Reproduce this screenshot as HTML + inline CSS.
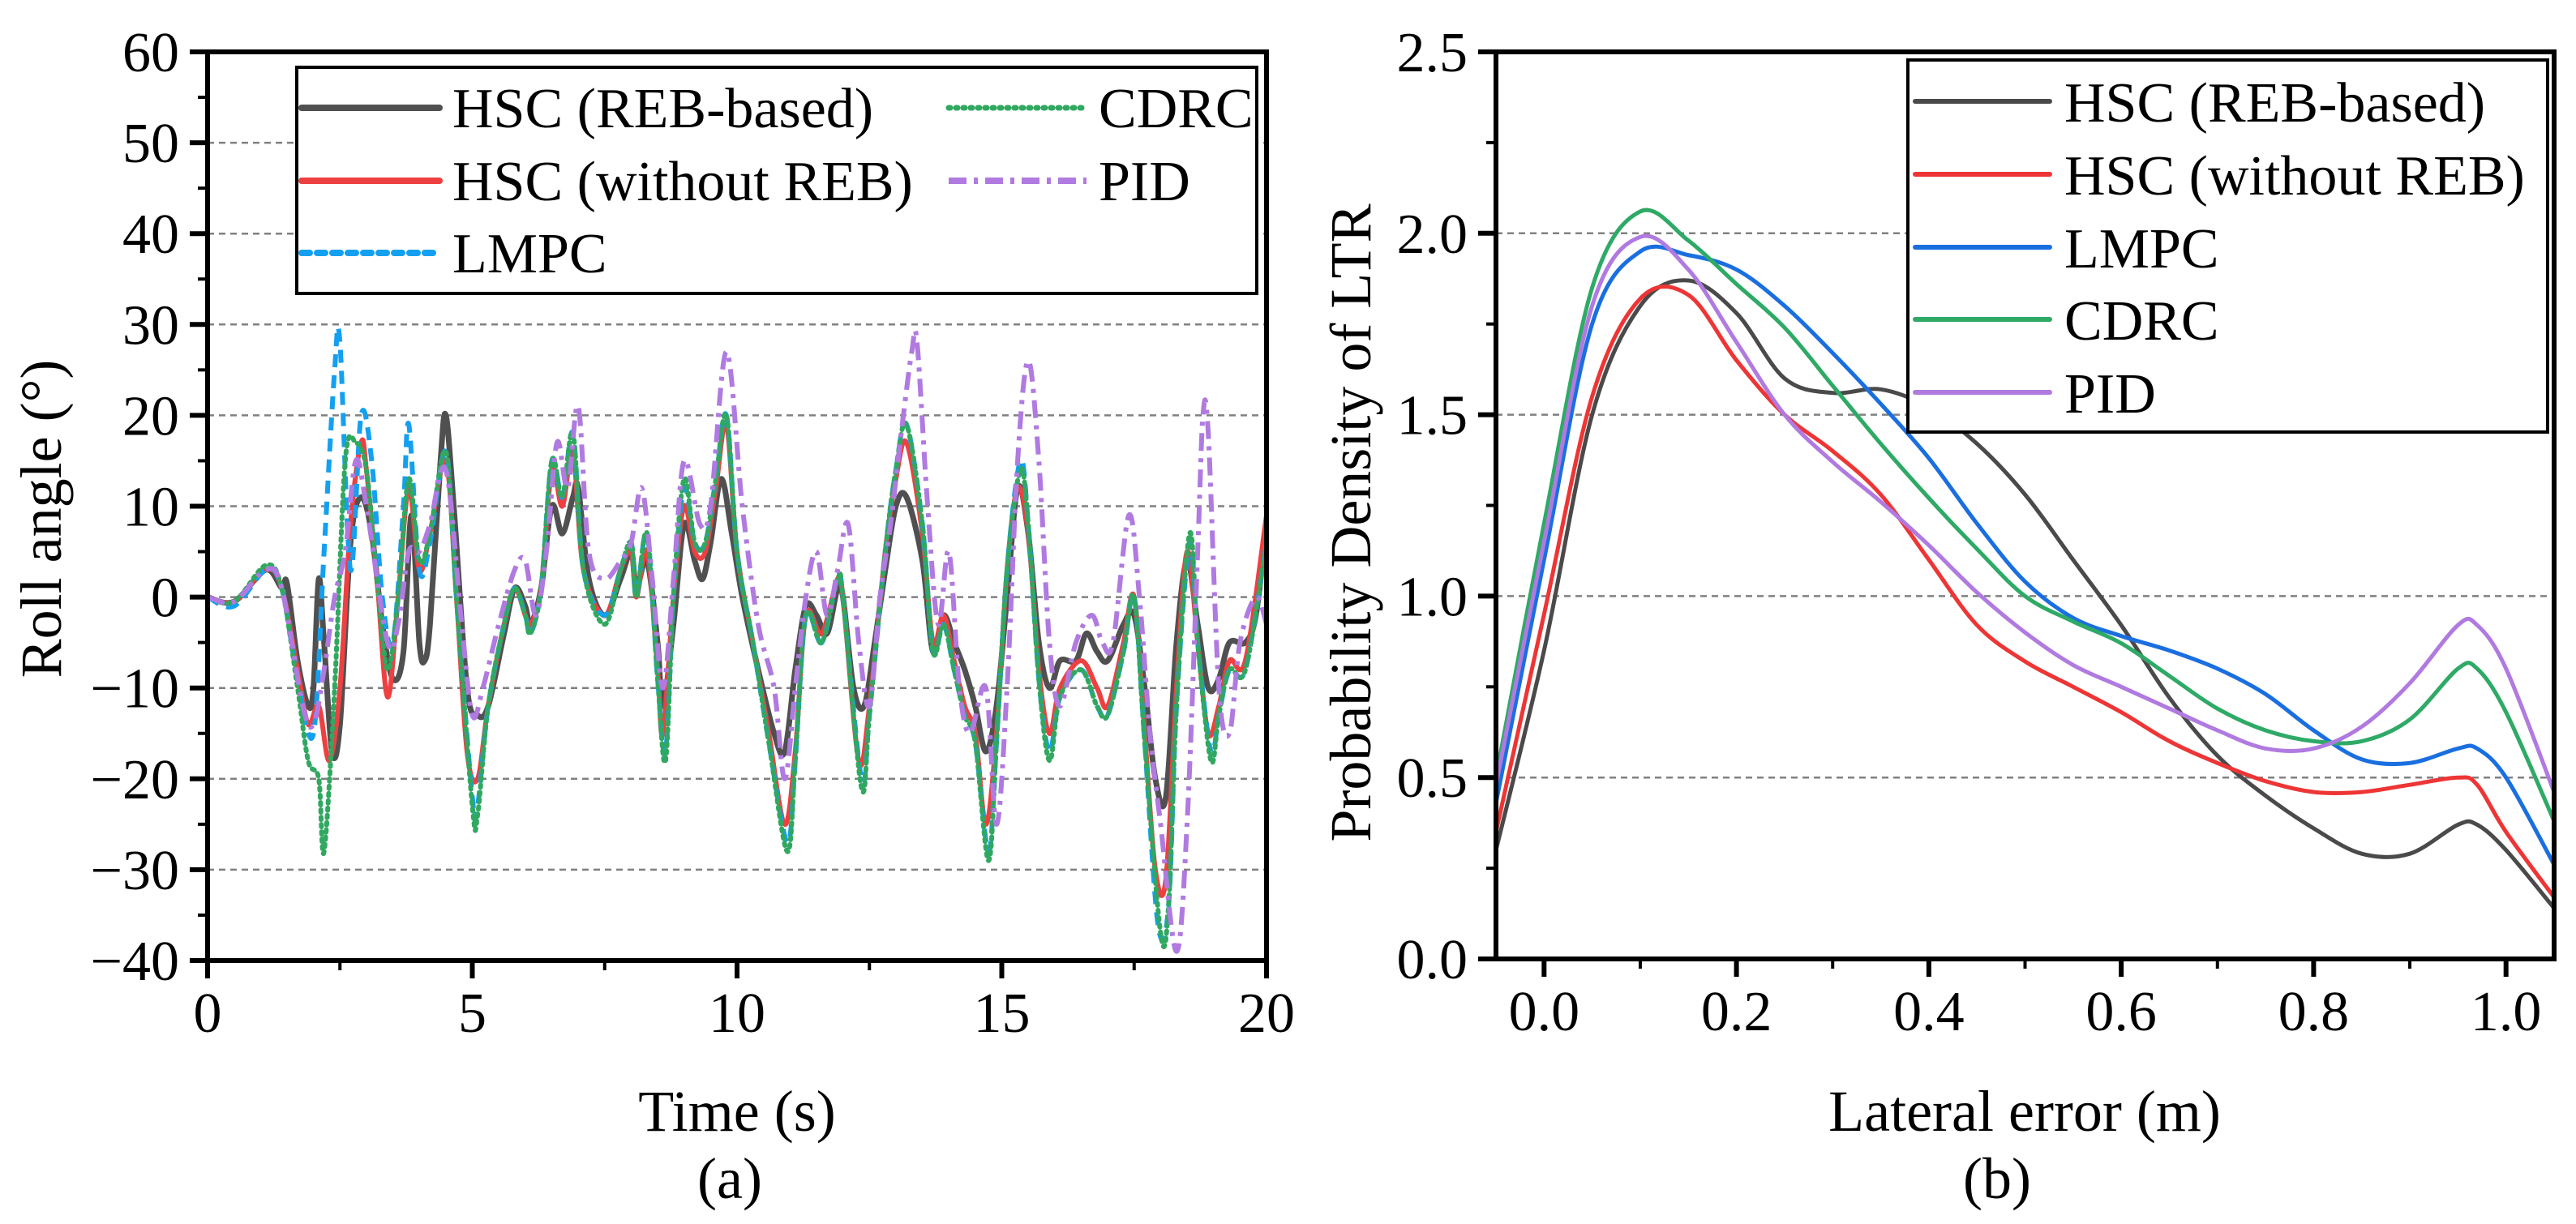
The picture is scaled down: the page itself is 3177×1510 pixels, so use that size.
<!DOCTYPE html>
<html><head><meta charset="utf-8"><style>
html,body{margin:0;padding:0;background:#fff;}
svg{display:block;font-family:"Liberation Serif",serif;}
</style></head><body>
<svg id="fig" width="3177" height="1510" viewBox="0 0 3177 1510" xmlns="http://www.w3.org/2000/svg">
<defs>
<clipPath id="clipA"><rect x="256" y="64" width="1306" height="1121"/></clipPath>
<clipPath id="clipB"><rect x="1845" y="64" width="1305" height="1119"/></clipPath>
</defs>
<g id="gA"></g>
<g id="gB"></g>
</svg>
<script>
// ---------- Chart (a) data ----------
const rebT=[0,0.5,1.1,1.4,1.5,1.7,1.9,2.0,2.1,2.2,2.35,2.5,2.7,2.9,3.1,3.3,3.5,3.7,3.85,4.0,4.1,4.2,4.4,4.5,4.65,4.9,5.1,5.3,5.6,5.8,6.0,6.1,6.3,6.5,6.7,6.9,7.0,7.2,7.5,7.8,8.0,8.1,8.3,8.5,8.6,8.8,9.0,9.2,9.35,9.5,9.7,9.9,10.1,10.4,10.7,10.9,11.1,11.3,11.5,11.7,11.9,12.0,12.2,12.4,12.6,12.8,13.0,13.2,13.5,13.7,13.9,14.1,14.3,14.5,14.7,14.9,15.1,15.3,15.5,15.7,15.9,16.1,16.4,16.6,16.8,17.0,17.3,17.5,17.7,17.9,18.1,18.3,18.5,18.7,18.9,19.1,19.3,19.6,19.8,20];
const rebV=[0,-0.5,3,1,1.5,-7,-12,-10,2,-5,-17,-14,6,11,7,-3,-9,-6,9,-5,-7,-3,15,20,10,-10,-13,-12,-4,1,-1,-3,1,10,7,11,12,2,-2,2,5,1,4,-5,-12,-3,8,4,2,6,13,7,0,-8,-15,-17,-8,-1,-2,-4,1,0,-10,-12,-5,3,10,11,4,-6,-2,-5,-8,-12,-17,-12,0,12,7,-5,-10,-7,-7,-4,-6,-7,-3,-2,-10,-20,-22,-5,4,-3,-10,-9,-5,-5,-2,8];
const redT=[0,0.5,1.1,1.4,1.7,1.9,2.1,2.3,2.5,2.7,2.9,3.0,3.2,3.4,3.6,3.8,4.0,4.2,4.5,4.7,4.9,5.1,5.3,5.6,5.8,6.0,6.1,6.3,6.5,6.7,6.9,7.1,7.5,7.8,8.0,8.1,8.3,8.5,8.6,8.8,9.0,9.2,9.4,9.6,9.8,10.0,10.3,10.6,10.9,11.1,11.3,11.6,11.9,12.0,12.3,12.5,12.8,13.0,13.2,13.5,13.7,13.9,14.1,14.3,14.5,14.7,14.9,15.1,15.3,15.5,15.7,15.9,16.1,16.5,16.8,17.0,17.3,17.5,17.7,17.9,18.1,18.3,18.5,18.7,18.9,19.1,19.3,19.6,20];
const redV=[0,-0.5,3,1,-8,-14,-12,-18,-10,8,17,14,2,-11,0,12,3,7,15,0,-17,-20,-12,-3,1,-2,-3,1,14,10,16,3,-2,3,5,0,5,-8,-15,0,10,5,5,12,19,5,-5,-15,-25,-17,-2,-4,2,0,-18,-12,5,13,17,7,-5,-2,-7,-12,-15,-25,-15,3,12,7,-8,-15,-10,-7,-10,-12,-5,0,-15,-30,-31,-10,5,-5,-15,-12,-7,-7,9];
const lmpcT=[0,0.5,1.1,1.4,1.7,2.0,2.2,2.4,2.5,2.7,2.9,3.1,3.3,3.5,3.7,3.8,4.0,4.2,4.5,4.7,5.0,5.1,5.3,5.6,5.8,6.0,6.1,6.3,6.5,6.7,6.9,7.1,7.5,7.8,8.0,8.1,8.3,8.5,8.65,8.8,9.0,9.2,9.4,9.6,9.8,10.0,10.3,10.6,10.95,11.1,11.3,11.6,11.9,12.0,12.35,12.5,12.8,13.0,13.2,13.5,13.7,13.9,14.1,14.3,14.5,14.75,14.9,15.1,15.35,15.5,15.7,15.9,16.1,16.5,16.8,17.0,17.3,17.5,17.7,17.95,18.15,18.3,18.55,18.7,18.95,19.1,19.3,19.6,20];
const lmpcV=[0,-1,3,1,-9,-15,5,25,28,3,20,15,0,-5,10,19,3,6,16,0,-22,-23,-12,-3,1,-2,-4,1,15,11,18,3,-2,3,6,0,7,-9,-17,0,12,6,6,13,20,5,-5,-16,-27,-18,-2,-5,2,0,-20,-13,5,14,19,8,-6,-3,-8,-13,-16,-28,-16,3,15,8,-9,-17,-11,-8,-12,-13,-6,0,-16,-36,-34,-12,6,-5,-17,-13,-8,-8,6];
const cdrcT=[0,0.5,1.1,1.4,1.7,1.9,2.1,2.2,2.4,2.6,2.8,3.0,3.2,3.4,3.6,3.8,4.0,4.2,4.5,4.7,5.0,5.1,5.3,5.6,5.8,6.0,6.1,6.3,6.5,6.7,6.9,7.1,7.5,7.8,8.0,8.1,8.3,8.5,8.65,8.8,9.0,9.2,9.4,9.6,9.8,10.0,10.3,10.6,10.95,11.1,11.3,11.6,11.9,12.0,12.35,12.5,12.8,13.0,13.2,13.5,13.7,13.9,14.1,14.3,14.5,14.75,14.9,15.1,15.35,15.5,15.7,15.9,16.1,16.5,16.8,17.0,17.3,17.5,17.7,18.0,18.15,18.3,18.55,18.7,18.95,19.1,19.3,19.6,20];
const cdrcV=[0,-0.5,3.5,1,-10,-18,-20,-28,-10,15,17,14,2,-8,0,13,4,7,16,0,-23,-24,-12,-3,1,-2,-4,1,15,11,18,3,-3,3,6,0,7,-9,-18,0,13,6,6,13,20,5,-5,-16,-28,-18,-2,-5,2,0,-21,-13,5,14,19,8,-6,-3,-8,-13,-16,-29,-16,3,14,8,-9,-18,-11,-8,-12,-13,-6,0,-16,-37,-34,-12,7,-5,-18,-13,-8,-8,6];
const pidT=[0,0.5,1.1,1.4,1.8,2.0,2.2,2.4,2.6,2.8,3.0,3.4,3.6,3.8,4.0,4.2,4.5,4.8,5.0,5.2,5.5,5.8,6.0,6.2,6.4,6.6,6.8,7.0,7.2,7.5,7.8,8.0,8.2,8.4,8.6,8.8,9.0,9.3,9.5,9.8,10.1,10.4,10.7,10.9,11.1,11.3,11.5,11.7,11.9,12.1,12.3,12.5,12.7,12.9,13.1,13.3,13.4,13.6,13.8,14.0,14.2,14.4,14.7,14.9,15.1,15.3,15.5,15.7,15.9,16.1,16.4,16.7,16.9,17.1,17.4,17.6,17.8,18.0,18.3,18.5,18.7,18.8,18.9,19.1,19.3,19.5,19.8,20];
const pidV=[0,-0.5,3,1,-12,-14,-8,0,5,15,10,-5,-3,5,5,8,14,-3,-13,-10,-3,3,4,-2,5,17,12,21,5,2,4,6,12,2,-10,2,15,8,10,27,10,-3,-10,-20,-10,0,5,-2,3,8,-5,-12,0,8,18,27,28,10,-3,5,-10,-15,-10,-25,-10,15,26,15,-5,-12,-5,-2,-5,-5,9,0,-15,-25,-39,-25,5,20,18,-10,-15,-5,0,-3];
const xTicksA=[0,5,10,15,20];
const yTicksA=[-40,-30,-20,-10,0,10,20,30,40,50,60];
const gridA=[-30,-20,-10,0,10,20,30,40,50];

// ---------- Chart (b) data ----------
const kdeX=[-0.05,0,0.05,0.1,0.15,0.2,0.25,0.3,0.35,0.4,0.45,0.5,0.55,0.6,0.65,0.7,0.75,0.8,0.85,0.9,0.95,0.97,1.0,1.05];
const kdeREB=[0.3,0.85,1.5,1.8,1.87,1.78,1.6,1.56,1.57,1.52,1.42,1.28,1.1,0.92,0.72,0.56,0.45,0.36,0.29,0.29,0.37,0.37,0.3,0.14];
const kdeRed=[0.35,0.95,1.55,1.82,1.83,1.65,1.5,1.4,1.28,1.1,0.92,0.82,0.75,0.68,0.6,0.54,0.49,0.46,0.46,0.48,0.5,0.48,0.35,0.17];
const kdeLMPC=[0.43,1.1,1.75,1.95,1.94,1.9,1.8,1.67,1.53,1.38,1.2,1.04,0.94,0.89,0.85,0.8,0.73,0.63,0.55,0.54,0.58,0.58,0.5,0.26];
const kdeCDRC=[0.5,1.2,1.85,2.06,1.98,1.86,1.74,1.58,1.42,1.27,1.13,1.0,0.93,0.87,0.78,0.69,0.63,0.6,0.6,0.66,0.8,0.8,0.68,0.38];
const kdePID=[0.48,1.15,1.8,1.99,1.9,1.7,1.5,1.37,1.26,1.14,1.01,0.9,0.81,0.75,0.69,0.63,0.58,0.58,0.64,0.76,0.92,0.92,0.8,0.46];
const xTicksB=[0,0.2,0.4,0.6,0.8,1.0];
const yTicksB=[0,0.5,1.0,1.5,2.0,2.5];
const gridB=[0.5,1.0,1.5,2.0];

const NS="http://www.w3.org/2000/svg";
function mk(parent,tag,attrs){const e=document.createElementNS(NS,tag);for(const k in attrs)e.setAttribute(k,attrs[k]);parent.appendChild(e);return e;}
function smooth(pts){let d="M"+pts[0][0].toFixed(1)+","+pts[0][1].toFixed(1);
  for(let i=0;i<pts.length-1;i++){const p0=pts[Math.max(0,i-1)],p1=pts[i],p2=pts[i+1],p3=pts[Math.min(pts.length-1,i+2)];
    const c1=[p1[0]+(p2[0]-p0[0])/6,p1[1]+(p2[1]-p0[1])/6],c2=[p2[0]-(p3[0]-p1[0])/6,p2[1]-(p3[1]-p1[1])/6];
    d+="C"+c1[0].toFixed(1)+","+c1[1].toFixed(1)+" "+c2[0].toFixed(1)+","+c2[1].toFixed(1)+" "+p2[0].toFixed(1)+","+p2[1].toFixed(1);}
  return d;}

function drawChart(g,o){
  const X=v=>o.x0+(v-o.xmin)/(o.xmax-o.xmin)*(o.x1-o.x0);
  const Y=v=>o.y1-(v-o.ymin)/(o.ymax-o.ymin)*(o.y1-o.y0);
  o.grid.forEach(v=>{const l=mk(g,"line",{x1:o.x0,x2:o.x1,y1:Y(v),y2:Y(v),stroke:"#808080","stroke-width":2.5,"stroke-dasharray":"8,6"});
    
    });
  const sg=mk(g,"g",{"clip-path":o.clip});
  o.series.forEach(s=>{const pts=s.x.map((xv,i)=>[X(xv),Y(s.y[i])]);
    const p=mk(sg,"path",{d:smooth(pts),fill:"none",stroke:s.color,"stroke-width":s.w,"stroke-linejoin":"round","stroke-linecap":s.cap||"butt"});
    if(s.dash)p.setAttribute("stroke-dasharray",s.dash);
    
    });
  mk(g,"rect",{x:o.x0,y:o.y0,width:o.x1-o.x0,height:o.y1-o.y0,fill:"none",stroke:"#000","stroke-width":6});
  o.yt.forEach(v=>{mk(g,"line",{x1:o.x0-22,x2:o.x0,y1:Y(v),y2:Y(v),stroke:"#000","stroke-width":6});
    const t=mk(g,"text",{x:o.x0-35,y:Y(v)+24,"text-anchor":"end","font-size":70});t.textContent=o.yfmt(v);
    
    });
  o.ymin_minor.forEach(v=>mk(g,"line",{x1:o.x0-12,x2:o.x0,y1:Y(v),y2:Y(v),stroke:"#000","stroke-width":4}));
  o.xt.forEach(v=>{mk(g,"line",{x1:X(v),x2:X(v),y1:o.y1,y2:o.y1+22,stroke:"#000","stroke-width":6});
    const t=mk(g,"text",{x:X(v),y:o.y1+88,"text-anchor":"middle","font-size":70});t.textContent=o.xfmt(v);
    
    });
  o.xmin_minor.forEach(v=>mk(g,"line",{x1:X(v),x2:X(v),y1:o.y1,y2:o.y1+12,stroke:"#000","stroke-width":4}));
}
const minorA_y=[],minorA_x=[2.5,7.5,12.5,17.5];for(let v=-35;v<60;v+=10)minorA_y.push(v);
drawChart(document.getElementById("gA"),{x0:256,x1:1562,y0:64,y1:1185,xmin:0,xmax:20,ymin:-40,ymax:60,clip:"url(#clipA)",
  grid:gridA,yt:yTicksA,xt:xTicksA,ymin_minor:minorA_y,xmin_minor:minorA_x,yfmt:v=>v<0?"\u2212"+(-v):""+v,xfmt:v=>""+v,
  series:[
   {name:"series-hsc-reb",x:rebT,y:rebV,color:"#505050",w:7},
   {name:"series-hsc-without-reb",x:redT,y:redV,color:"#ee4040",w:6},
   {name:"series-lmpc",x:lmpcT,y:lmpcV,color:"#14a0f0",w:6,dash:"16,10"},
   {name:"series-cdrc",x:cdrcT,y:cdrcV,color:"#30a860",w:6,dash:"3,6",cap:"round"},
   {name:"series-pid",x:pidT,y:pidV,color:"#b07ae0",w:6,dash:"22,9,5,9"}]});
const minorB_y=[0.25,0.75,1.25,1.75,2.25],minorB_x=[0.1,0.3,0.5,0.7,0.9];
drawChart(document.getElementById("gB"),{x0:1845,x1:3150,y0:64,y1:1183,xmin:-0.05,xmax:1.05,ymin:0,ymax:2.5,clip:"url(#clipB)",
  grid:gridB,yt:yTicksB,xt:xTicksB,ymin_minor:minorB_y,xmin_minor:minorB_x,yfmt:v=>v.toFixed(1),xfmt:v=>v.toFixed(1),
  series:[
   {name:"curve-hsc-reb",x:kdeX,y:kdeREB,color:"#4a4a4a",w:5},
   {name:"curve-hsc-without-reb",x:kdeX,y:kdeRed,color:"#ee3535",w:5},
   {name:"curve-lmpc",x:kdeX,y:kdeLMPC,color:"#1a6fe0",w:5},
   {name:"curve-cdrc",x:kdeX,y:kdeCDRC,color:"#2eaa66",w:5},
   {name:"curve-pid",x:kdeX,y:kdePID,color:"#b07ae0",w:5}]});
</script>
<svg style="position:absolute;left:0;top:0" width="3177" height="1510" xmlns="http://www.w3.org/2000/svg" font-family="Liberation Serif, serif">
 <g>
  <rect x="366" y="83" width="1184" height="279" fill="#fff" stroke="#000" stroke-width="4"/>
  <line x1="372" y1="133" x2="542" y2="133" stroke="#505050" stroke-width="8" stroke-linecap="round"/>
  <text x="558" y="157" font-size="70">HSC (REB-based)</text>
  <line x1="372" y1="223" x2="542" y2="223" stroke="#ee4040" stroke-width="8" stroke-linecap="round"/>
  <text x="558" y="247" font-size="70">HSC (without REB)</text>
  <line x1="372" y1="312" x2="542" y2="312" stroke="#14a0f0" stroke-width="8" stroke-dasharray="10,9" stroke-linecap="round"/>
  <text x="558" y="336" font-size="70">LMPC</text>
  <line x1="1170" y1="133" x2="1340" y2="133" stroke="#30a860" stroke-width="7" stroke-dasharray="2,7" stroke-linecap="round"/>
  <text x="1355" y="157" font-size="70">CDRC</text>
  <line x1="1170" y1="223" x2="1340" y2="223" stroke="#b07ae0" stroke-width="8" stroke-dasharray="22,9,5,9"/>
  <text x="1355" y="247" font-size="70">PID</text>
 </g>
 <g>
  <rect x="2353" y="74" width="789" height="459" fill="#fff" stroke="#000" stroke-width="4"/>
  <line x1="2362" y1="125" x2="2528" y2="125" stroke="#4a4a4a" stroke-width="6" stroke-linecap="round"/>
  <text x="2546" y="150" font-size="70">HSC (REB-based)</text>
  <line x1="2362" y1="215" x2="2528" y2="215" stroke="#ee3535" stroke-width="6" stroke-linecap="round"/>
  <text x="2546" y="240" font-size="70">HSC (without REB)</text>
  <line x1="2362" y1="305" x2="2528" y2="305" stroke="#1a6fe0" stroke-width="6" stroke-linecap="round"/>
  <text x="2546" y="330" font-size="70">LMPC</text>
  <line x1="2362" y1="394" x2="2528" y2="394" stroke="#2eaa66" stroke-width="6" stroke-linecap="round"/>
  <text x="2546" y="419" font-size="70">CDRC</text>
  <line x1="2362" y1="484" x2="2528" y2="484" stroke="#b07ae0" stroke-width="6" stroke-linecap="round"/>
  <text x="2546" y="509" font-size="70">PID</text>
 </g>
 <text x="909" y="1395" font-size="72" text-anchor="middle">Time (s)</text>
 <text x="900" y="1478" font-size="72" text-anchor="middle">(a)</text>
 <text transform="translate(75,640) rotate(-90)" font-size="72" text-anchor="middle">Roll angle (°)</text>
 <text x="2497" y="1395" font-size="72" text-anchor="middle">Lateral error (m)</text>
 <text x="2463" y="1478" font-size="72" text-anchor="middle">(b)</text>
 <text transform="translate(1690,645) rotate(-90)" font-size="72" text-anchor="middle">Probability Density of LTR</text>
</svg>
</body></html>
